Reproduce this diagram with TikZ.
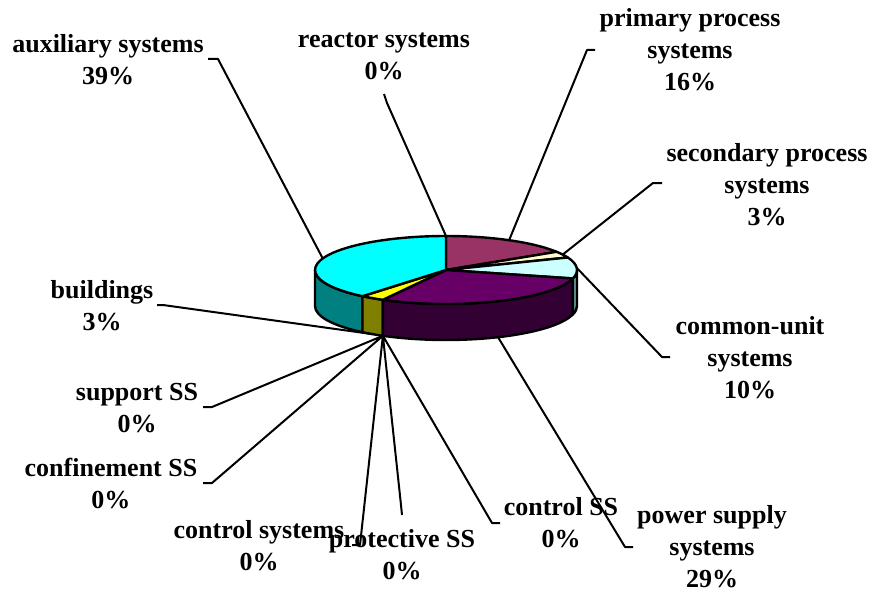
\documentclass[tikz,border=0pt]{standalone}
\usepackage{fontspec}
\setmainfont{Liberation Serif}
\definecolor{cprimary}{HTML}{993366}
\definecolor{csecond}{HTML}{FFFFCC}
\definecolor{ccommon}{HTML}{CCFFFF}
\definecolor{ccommonside}{HTML}{669999}
\definecolor{cpower}{HTML}{660066}
\definecolor{cpowerside}{HTML}{330033}
\definecolor{cbuild}{HTML}{FFFF00}
\definecolor{cbuildside}{HTML}{808000}
\definecolor{caux}{HTML}{00FFFF}
\definecolor{cauxside}{HTML}{008080}
\begin{document}
\begin{tikzpicture}[x=1pt, y=-1pt, line join=round]
\tikzstyle{every node}=[align=center, inner sep=0pt, font=\fontsize{26}{32}\selectfont\bfseries];
\tikzstyle{slice}=[draw=black, line width=2.4pt];
\tikzstyle{leader}=[line width=2pt];
\useasboundingbox (0,0) rectangle (873,594);
% pie, radii 131 and 34, depth 36
\begin{scope}[shift={(446,270)}, yscale=-1]
\tikzstyle{ell}=[x radius=131, y radius=34]
% sides
\filldraw[slice, fill=cauxside] (-129.6:131 and 34) arc[ell, start angle=-129.6, end angle=-180] -- ++(0,-36) arc[ell, start angle=-180, end angle=-129.6] -- cycle;
\filldraw[slice, fill=cbuildside] (-118.8:131 and 34) arc[ell, start angle=-118.8, end angle=-129.6] -- ++(0,-36) arc[ell, start angle=-129.6, end angle=-118.8] -- cycle;
\filldraw[slice, fill=cpowerside] (-14.4:131 and 34) arc[ell, start angle=-14.4, end angle=-118.8] -- ++(0,-36) arc[ell, start angle=-118.8, end angle=-14.4] -- cycle;
\filldraw[slice, fill=ccommonside] (0:131 and 34) arc[ell, start angle=0, end angle=-14.4] -- ++(0,-36) arc[ell, start angle=-14.4, end angle=0] -- cycle;
% top
\filldraw[slice, fill=cprimary] (0,0) -- (90:131 and 34) arc[ell, start angle=90, end angle=32.4] -- cycle;
\filldraw[slice, fill=csecond] (0,0) -- (32.4:131 and 34) arc[ell, start angle=32.4, end angle=21.6] -- cycle;
\filldraw[slice, fill=ccommon] (0,0) -- (21.6:131 and 34) arc[ell, start angle=21.6, end angle=-14.4] -- cycle;
\filldraw[slice, fill=cpower] (0,0) -- (-14.4:131 and 34) arc[ell, start angle=-14.4, end angle=-118.8] -- cycle;
\filldraw[slice, fill=cbuild] (0,0) -- (-118.8:131 and 34) arc[ell, start angle=-118.8, end angle=-129.6] -- cycle;
\filldraw[slice, fill=caux] (0,0) -- (-129.6:131 and 34) arc[ell, start angle=-129.6, end angle=-270] -- cycle;
% leader ends on the pie
\coordinate (ereactor) at (90:131 and 34);
\coordinate (eprimary) at (61.2:131 and 34);
\coordinate (esecond) at (27:131 and 34);
\coordinate (ecommon) at (3.6:131 and 34);
\coordinate (eaux) at (160.2:131 and 34);
\path (-66.6:131 and 34) ++(0,-36) coordinate (epower);
\path (-118.8:131 and 34) ++(0,-36) coordinate (ezero);
\path (-124.2:131 and 34) ++(0,-36) coordinate (ebuild);
\end{scope}
% labels
\node (laux) at (108,60) {auxiliary systems\\39\%};
\node (lreactor) at (384,56) {reactor systems\\0\%};
\node (lprimary) at (690,50) {primary process\\systems\\16\%};
\node (lsecond) at (767,185) {secondary process\\systems\\3\%};
\node (lcommon) at (750,358) {common-unit\\systems\\10\%};
\node (lpower) at (712,547) {power supply\\systems\\29\%};
\node (lcontrolss) at (561,523) {control SS\\0\%};
\node (lprotect) at (402,555) {protective SS\\0\%};
\node (lcontrolsys) at (259,546) {control systems\\0\%};
\node (lconfine) at (111,484) {confinement SS\\0\%};
\node (lsupport) at (137,408) {support SS\\0\%};
\node (lbuild) at (102,306) {buildings\\3\%};
% leaders
\coordinate (taux) at (208,59);
\coordinate (treactor) at (384,94);
\coordinate (tprimary) at (595,50);
\coordinate (tsecond) at (662,183);
\coordinate (tcommon) at (670,357);
\coordinate (tpower) at (633,547);
\coordinate (tcontrolss) at (500,523);
\coordinate (tprotect) at (402,515);
\coordinate (tcontrolsys) at (352,545);
\coordinate (tconfine) at (203,483);
\coordinate (tsupport) at (203,407);
\coordinate (tbuild) at (157,305);
\draw[leader] (taux) -- ++(10,0) -- (eaux)
(treactor) -- ++(3,9) -- (ereactor)
(tprimary) -- ++(-8,0) -- (eprimary)
(tsecond) -- ++(-9,0) -- (esecond)
(tcommon) -- ++(-8,0) -- (ecommon)
(tpower) -- ++(-8,0) -- (epower)
(tcontrolss) -- ++(-8,0) -- (ezero)
(tprotect) -- ++(-1,-10) -- (ezero)
(tcontrolsys) -- ++(8,0) -- (ezero)
(tconfine) -- ++(9,0) -- (ezero)
(tsupport) -- ++(9,0) -- (ezero)
(tbuild) -- ++(6,0) -- (ebuild);
\end{tikzpicture}
\end{document}
